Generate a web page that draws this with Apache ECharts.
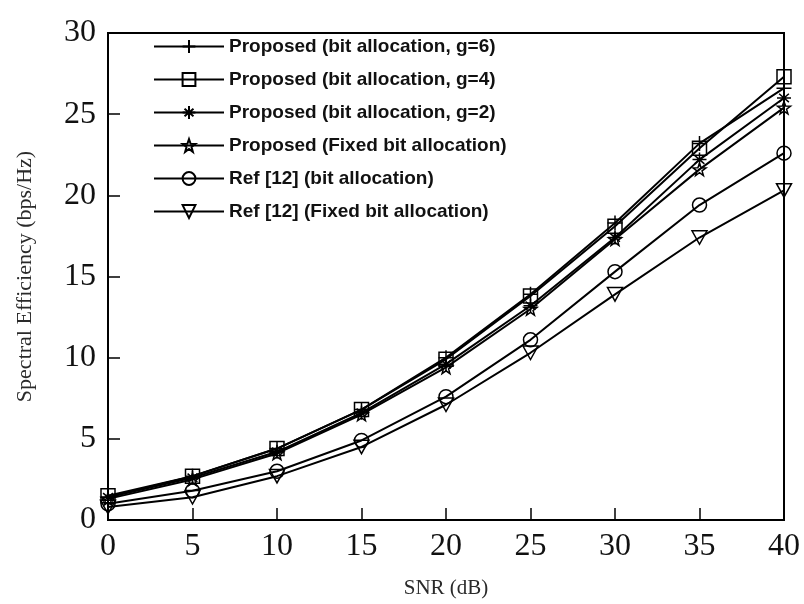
<!DOCTYPE html>
<html>
<head>
<meta charset="utf-8">
<script src="https://cdn.jsdelivr.net/npm/echarts@6/dist/echarts.min.js"></script>
<style>
  html, body { margin: 0; padding: 0; background: #fff; }
  #chart { width: 804px; height: 604px; }
</style>
</head>
<body>
<div id="chart"></div>
<script>
// SNR sweep (dB)
const snr = [0, 5, 10, 15, 20, 25, 30, 35, 40];

// Spectral efficiency (bps/Hz) per scheme
const propG6    = [1.4, 2.7, 4.4, 6.8, 10.0, 13.9, 18.3, 23.2, 26.6];
const propG4    = [1.5, 2.7, 4.4, 6.8, 9.9, 13.8, 18.1, 22.9, 27.3];
const propG2    = [1.4, 2.6, 4.2, 6.6, 9.6, 13.2, 17.4, 22.2, 26.0];
const propFixed = [1.3, 2.5, 4.1, 6.5, 9.4, 13.0, 17.3, 21.6, 25.4];
const refBit    = [1.0, 1.8, 3.0, 4.9, 7.6, 11.1, 15.3, 19.4, 22.6];
const refFixed  = [0.8, 1.4, 2.7, 4.5, 7.1, 10.3, 13.9, 17.4, 20.3];

const seriesNames = [
  'Proposed (bit allocation, g=6)',
  'Proposed (bit allocation, g=4)',
  'Proposed (bit allocation, g=2)',
  'Proposed (Fixed bit allocation)',
  'Ref [12] (bit allocation)',
  'Ref [12] (Fixed bit allocation)'
];
const seriesValues = [propG6, propG4, propG2, propFixed, refBit, refFixed];

const yTicks = [0, 5, 10, 15, 20, 25, 30];
const xTicks = [0, 5, 10, 15, 20, 25, 30, 35, 40];

// marker shapes
const SYM_PLUS = 'path://M5,0L5,10M0,5L10,5';
const SYM_AST = 'path://M5,0L5,10M0,5L10,5M1.5,2L8.5,8M1.5,8L8.5,2';
const SYM_STAR = 'path://M5,0L6.2,3.4L9.8,3.5L6.9,5.7L7.9,9.2L5,7.1L2.1,9.2L3.1,5.7L0.2,3.5L3.8,3.4Z';
const SYM_TRI = 'path://M0,0L10,0L5,9Z';
const symbols = [SYM_PLUS, 'rect', SYM_AST, SYM_STAR, 'circle', SYM_TRI];
const symbolSizes = [15, 14, 14, 13, 14, 15];

const serif = '"Liberation Serif", "DejaVu Serif", serif';

const chart = echarts.init(document.getElementById('chart'), null, { renderer: 'canvas' });

const series = seriesNames.map((name, i) => ({
  name: name,
  type: 'line',
  data: snr.map((x, k) => [x, seriesValues[i][k]]),
  symbol: symbols[i],
  symbolSize: symbolSizes[i],
  symbolKeepAspect: true,
  showAllSymbol: true,
  lineStyle: { color: '#000', width: 2 },
  itemStyle: { color: 'rgba(255,255,255,0)', borderColor: '#000', borderWidth: 1.5 },
  emphasis: { disabled: true },
  animation: false
}));

chart.setOption({
  backgroundColor: '#fff',
  animation: false,
  grid: {
    left: 108, right: 20, top: 33, bottom: 79,
    show: true, borderColor: '#000', borderWidth: 2,
    backgroundColor: 'rgba(0,0,0,0)'
  },
  legend: {
    orient: 'vertical',
    left: 148, top: 32,
    itemWidth: 70, itemHeight: 16, itemGap: 14,
    data: seriesNames,
    selectedMode: false,
    textStyle: {
      fontFamily: '"Liberation Sans", Arial, sans-serif',
      fontSize: 19, fontWeight: 'bold', color: '#111'
    }
  },
  xAxis: {
    type: 'value', min: 0, max: 40, interval: 5,
    name: 'SNR (dB)', nameLocation: 'middle', nameGap: 58,
    nameTextStyle: { fontFamily: serif, fontSize: 21, color: '#2a2a2a' },
    axisLine: { show: true, lineStyle: { color: '#000', width: 2 } },
    axisTick: { show: true, inside: true, length: 12, lineStyle: { color: '#000', width: 1.5 } },
    axisLabel: {
      fontFamily: serif, fontSize: 32, color: '#111', margin: 11,
      formatter: v => (xTicks.indexOf(v) >= 0 ? String(v) : '')
    },
    splitLine: { show: false }
  },
  yAxis: {
    type: 'value', min: 0, max: 30, interval: 5,
    name: 'Spectral Efficiency (bps/Hz)', nameLocation: 'middle', nameGap: 72,
    nameTextStyle: { fontFamily: serif, fontSize: 22, color: '#2a2a2a' },
    axisLine: { show: true, lineStyle: { color: '#000', width: 2 } },
    axisTick: { show: true, inside: true, length: 12, lineStyle: { color: '#000', width: 1.5 } },
    axisLabel: {
      fontFamily: serif, fontSize: 32, color: '#111', margin: 12,
      formatter: v => (yTicks.indexOf(v) >= 0 ? String(v) : '')
    },
    splitLine: { show: false }
  },
  series: series
});
</script>
</body>
</html>
